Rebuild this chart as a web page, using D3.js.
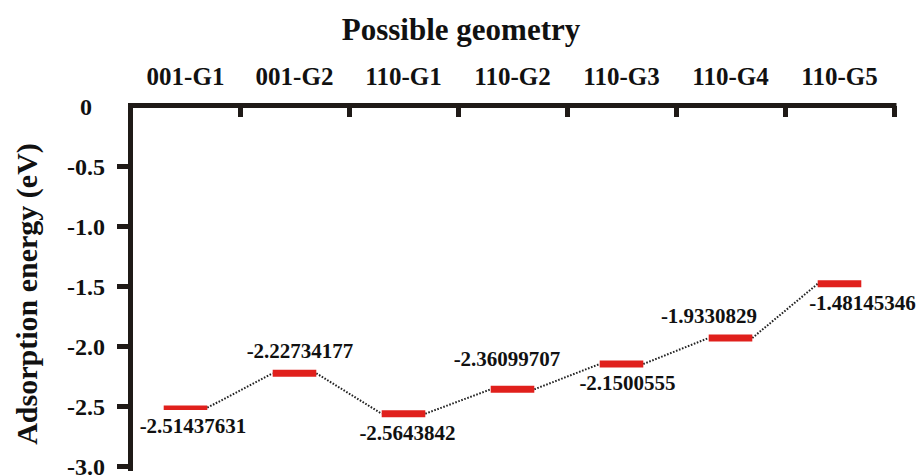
<!DOCTYPE html>
<html>
<head>
<meta charset="utf-8">
<script src="https://cdn.jsdelivr.net/npm/d3@7"></script>
<style>
  html, body { margin: 0; padding: 0; background: #fff; }
  svg { display: block; }
  text { font-family: "Liberation Serif", "Times New Roman", Times, serif; font-weight: bold; fill: #111; }
</style>
</head>
<body>
<svg id="chart" width="920" height="475"></svg>
<script>
// Adsorption energies (eV) for each candidate geometry
const categories = ["001-G1", "001-G2", "110-G1", "110-G2", "110-G3", "110-G4", "110-G5"];
const energies = [-2.51437631, -2.22734177, -2.5643842, -2.36099707, -2.1500555, -1.9330829, -1.48145346];
const energyLabels = ["-2.51437631", "-2.22734177", "-2.5643842", "-2.36099707", "-2.1500555", "-1.9330829", "-1.48145346"];
const yTicks = [0, -0.5, -1.0, -1.5, -2.0, -2.5, -3.0];
const yTickLabels = ["0", "-0.5", "-1.0", "-1.5", "-2.0", "-2.5", "-3.0"];

(function draw() {
  const svg = d3.select("#chart");
  const axisColor = "#1f1a17";
  const barColor = "#e0201c";

  const plotLeft = 131, plotRight = 894, plotTop = 106, plotBottom = 466;

  const x = d3.scaleBand().domain(categories).range([plotLeft, plotRight]).padding(0);
  const y = d3.scaleLinear().domain([0, -3]).range([plotTop, plotBottom]);
  const bw = x.bandwidth();
  const barW = bw * 0.4;

  // Title
  svg.append("text")
    .attr("x", 461).attr("y", 40)
    .attr("text-anchor", "middle")
    .style("font-size", "31px")
    .text("Possible geometry");

  // Y axis title
  svg.append("text")
    .attr("transform", "translate(37,294) rotate(-90)")
    .attr("text-anchor", "middle")
    .style("font-size", "30px")
    .text("Adsorption energy (eV)");

  // Category labels above the top axis
  svg.append("g").selectAll("text")
    .data(categories)
    .join("text")
    .attr("x", d => x(d) + bw / 2)
    .attr("y", 85)
    .attr("text-anchor", "middle")
    .style("font-size", "25px")
    .text(d => d);

  // Top axis with ticks at the band boundaries, pointing down
  const edge = d3.scaleLinear().domain([0, categories.length]).range([plotLeft, plotRight]);
  const topAxis = svg.append("g")
    .attr("transform", `translate(0,${plotTop})`)
    .call(d3.axisTop(edge).tickValues(d3.range(1, categories.length + 1)).tickSize(-11).tickFormat(""));
  topAxis.select(".domain").remove();
  topAxis.selectAll(".tick line").attr("stroke", axisColor).attr("stroke-width", 5);
  svg.append("line")
    .attr("x1", plotLeft - 3).attr("x2", plotRight + 2.5)
    .attr("y1", plotTop - 0.5).attr("y2", plotTop - 0.5)
    .attr("stroke", axisColor).attr("stroke-width", 5);

  // Left axis
  const yAxis = svg.append("g")
    .attr("transform", `translate(${plotLeft},0)`)
    .call(d3.axisLeft(y).tickValues(yTicks).tickSize(14).tickFormat((d, i) => yTickLabels[i]));
  yAxis.select(".domain").remove();
  yAxis.selectAll(".tick line")
    .attr("stroke", axisColor).attr("stroke-width", 5)
    .attr("display", d => d === 0 ? "none" : null);
  yAxis.selectAll(".tick text")
    .attr("x", 86 - plotLeft)
    .attr("text-anchor", "middle")
    .attr("dy", "0.36em")
    .style("font-size", "24px")
    .style("font-family", "'Liberation Serif', 'Times New Roman', Times, serif")
    .style("font-weight", "bold")
    .attr("fill", "#111");
  svg.append("line")
    .attr("x1", plotLeft - 0.5).attr("x2", plotLeft - 0.5)
    .attr("y1", plotTop - 3).attr("y2", 471)
    .attr("stroke", axisColor).attr("stroke-width", 5);

  // Dotted connectors from the end of one level to the start of the next
  const pts = categories.map((c, i) => ({ cx: x(c) + bw / 2, cy: y(energies[i]) }));
  svg.append("g").selectAll("line")
    .data(d3.pairs(pts))
    .join("line")
    .attr("x1", d => d[0].cx + barW / 2)
    .attr("y1", d => d[0].cy)
    .attr("x2", d => d[1].cx - barW / 2)
    .attr("y2", d => d[1].cy)
    .attr("stroke", "#222")
    .attr("stroke-width", 2)
    .attr("stroke-dasharray", "1.6,1.6");

  // Energy levels
  svg.append("g").selectAll("line")
    .data(pts)
    .join("line")
    .attr("x1", d => d.cx - barW / 2)
    .attr("x2", d => d.cx + barW / 2)
    .attr("y1", d => d.cy)
    .attr("y2", d => d.cy)
    .attr("stroke", barColor)
    .attr("stroke-width", (d, i) => i === 0 ? 4.5 : 7);

  // Value labels, placed above or below each level
  const labelShift = [[7.5, 25], [5.5, -15], [4, 26], [-5.5, -23], [6, 26], [-21.5, -15], [23, 26]];
  svg.append("g").selectAll("text")
    .data(pts)
    .join("text")
    .attr("x", (d, i) => d.cx + labelShift[i][0])
    .attr("y", (d, i) => d.cy + labelShift[i][1])
    .attr("text-anchor", "middle")
    .style("font-size", "21px")
    .text((d, i) => energyLabels[i]);
})();
</script>
</body>
</html>
